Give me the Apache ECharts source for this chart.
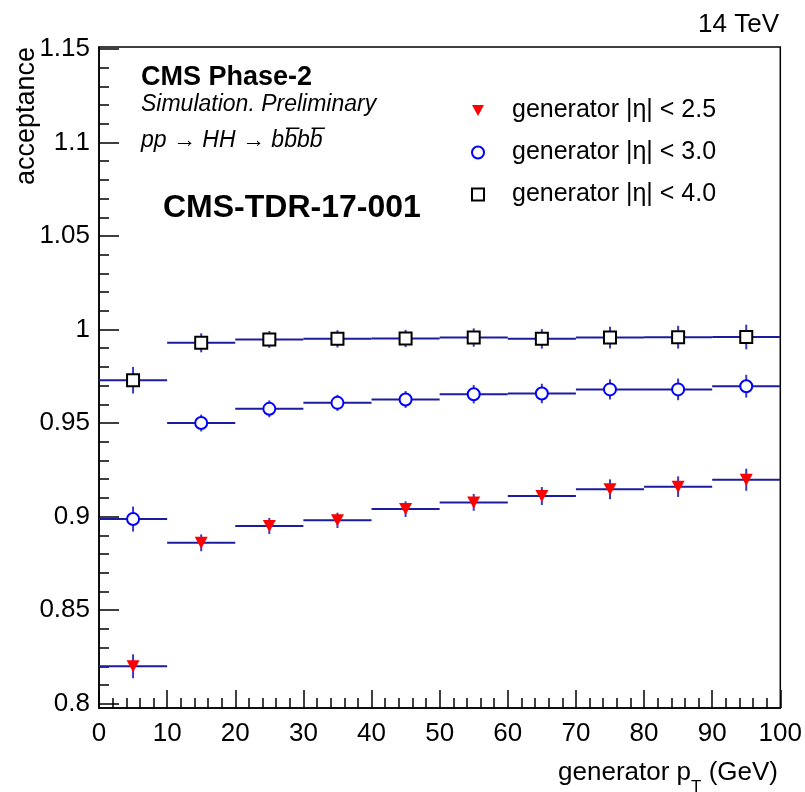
<!DOCTYPE html>
<html><head><meta charset="utf-8">
<script src="https://cdn.jsdelivr.net/npm/echarts@6/dist/echarts.min.js"></script>
<style>html,body{margin:0;padding:0;background:#fff}#c{width:805px;height:792px}</style>
</head><body><div id="c"></div>
<script>
// ---- data ----
const binLow = [0, 10, 20, 30, 40, 50, 60, 70, 80, 90];
const binHigh = [10, 20, 30, 40, 50, 60, 70, 80, 90, 100];
const binCenter = [5, 15, 25, 35, 45, 55, 65, 75, 85, 95];
const acc25 = [0.820, 0.886, 0.895, 0.898, 0.904, 0.9076, 0.911, 0.9146, 0.916, 0.9197];
const err25 = [0.0064, 0.0045, 0.0043, 0.0041, 0.0042, 0.0045, 0.0048, 0.0053, 0.0055, 0.0059];
const acc30 = [0.8987, 0.950, 0.9576, 0.9608, 0.9626, 0.9654, 0.9658, 0.968, 0.968, 0.9697];
const err30 = [0.0067, 0.0045, 0.0045, 0.0043, 0.0045, 0.0049, 0.0052, 0.0054, 0.0058, 0.0061];
const acc40 = [0.9729, 0.9929, 0.9947, 0.995, 0.9952, 0.9957, 0.995, 0.9957, 0.9959, 0.996];
const err40 = [0.0071, 0.0051, 0.0045, 0.0046, 0.0046, 0.0049, 0.0052, 0.0058, 0.0061, 0.0066];
const seriesNames = ['generator |η| < 2.5', 'generator |η| < 3.0', 'generator |η| < 4.0'];
const yMajorTicks = [0.8, 0.85, 0.9, 0.95, 1, 1.05, 1.1, 1.15];
const yMinorTicks = [0.81, 0.82, 0.83, 0.84, 0.86, 0.87, 0.88, 0.89, 0.91, 0.92, 0.93, 0.94,
  0.96, 0.97, 0.98, 0.99, 1.01, 1.02, 1.03, 1.04, 1.06, 1.07, 1.08, 1.09, 1.11, 1.12, 1.13, 1.14];

const FONT = "'Liberation Sans', Arial, Helvetica, sans-serif";
const LINE_COLOR = '#1c1ca0';

function binData(acc, err) {
  return binCenter.map((c, i) => [binLow[i], binHigh[i], c, acc[i], err[i]]);
}
function pointData(acc) {
  return binCenter.map((c, i) => [c, acc[i]]);
}
function renderBin(params, api) {
  const lo = api.value(0), hi = api.value(1), c = api.value(2), v = api.value(3), e = api.value(4);
  const p1 = api.coord([lo, v]), p2 = api.coord([hi, v]);
  const p3 = api.coord([c, v - e]), p4 = api.coord([c, v + e]);
  return {
    type: 'group',
    children: [
      { type: 'line', shape: { x1: p1[0], y1: p1[1], x2: p2[0], y2: p2[1] }, style: { stroke: LINE_COLOR, lineWidth: 2 } },
      { type: 'line', shape: { x1: p3[0], y1: p3[1], x2: p4[0], y2: p4[1] }, style: { stroke: '#3a3ac0', lineWidth: 2 } }
    ]
  };
}

const chart = echarts.init(document.getElementById('c'), null, { renderer: 'canvas' });
const yRange = { min: 0.7977, max: 1.151 };

const option = {
  animation: false,
  backgroundColor: '#fff',
  grid: { left: 99, right: 24, top: 47, bottom: 84, show: true, borderColor: '#000', borderWidth: 1.5, backgroundColor: 'transparent' },
  xAxis: {
    type: 'value', min: 0, max: 100, interval: 10,
    axisLine: { lineStyle: { color: '#000', width: 1.5 } },
    axisTick: { inside: true, length: 18, lineStyle: { color: '#000', width: 1.5 } },
    minorTick: { show: true, splitNumber: 5, length: 10, lineStyle: { color: '#000', width: 1.5 } },
    axisLabel: { color: '#000', fontSize: 26, fontFamily: FONT, margin: 13 },
    splitLine: { show: false }
  },
  yAxis: [{
    type: 'value', min: yRange.min, max: yRange.max,
    axisLine: { show: true, lineStyle: { color: '#000', width: 1.5 } },
    axisTick: { inside: true, length: 20, customValues: yMajorTicks, lineStyle: { color: '#000', width: 1.5 } },
    axisLabel: { color: '#000', fontSize: 26, fontFamily: FONT, margin: 9, customValues: yMajorTicks },
    splitLine: { show: false }
  }, {
    type: 'value', min: yRange.min, max: yRange.max, position: 'left',
    axisLine: { show: false },
    axisTick: { inside: true, length: 10, customValues: yMinorTicks, lineStyle: { color: '#000', width: 1.5 } },
    axisLabel: { show: false },
    splitLine: { show: false }
  }],
  legend: {
    orient: 'vertical', left: 466, top: 93, itemWidth: 12, itemHeight: 12, itemGap: 17,
    data: seriesNames,
    textStyle: { color: '#000', fontSize: 25, fontFamily: FONT, padding: [0, 0, 0, 23] }
  },
  series: [
    { type: 'custom', name: 'bins25', renderItem: renderBin, data: binData(acc25, err25), encode: { x: [0, 1, 2], y: [3] }, z: 2 },
    { type: 'custom', name: 'bins30', renderItem: renderBin, data: binData(acc30, err30), encode: { x: [0, 1, 2], y: [3] }, z: 2 },
    { type: 'custom', name: 'bins40', renderItem: renderBin, data: binData(acc40, err40), encode: { x: [0, 1, 2], y: [3] }, z: 2 },
    { type: 'scatter', name: seriesNames[0], data: pointData(acc25), symbol: 'path://M0,0 L10,0 L5,9 Z', symbolSize: [13, 12],
      itemStyle: { color: '#ff0000', opacity: 1 }, z: 5 },
    { type: 'scatter', name: seriesNames[1], data: pointData(acc30), symbol: 'circle', symbolSize: 12,
      itemStyle: { color: '#ffffff', borderColor: '#0000ff', borderWidth: 2, opacity: 1 }, z: 5 },
    { type: 'scatter', name: seriesNames[2], data: pointData(acc40), symbol: 'rect', symbolSize: 12,
      itemStyle: { color: '#ffffff', borderColor: '#000000', borderWidth: 2, opacity: 1 }, z: 5 }
  ],
  graphic: [
    { type: 'text', x: 779, y: 25, style: { text: '14 TeV', font: `26px ${FONT}`, fill: '#000', align: 'right', verticalAlign: 'middle' } },
    { type: 'text', x: 27, y: 47, rotation: Math.PI / 2, style: { text: 'acceptance', font: `27px ${FONT}`, fill: '#000', align: 'right', verticalAlign: 'middle' } },
    { type: 'text', x: 778, y: 796, style: {
        text: '{a|generator p}{s|T}{a| (GeV)}', fill: '#000', align: 'right', verticalAlign: 'bottom',
        rich: { a: { fontSize: 26, fontFamily: FONT, lineHeight: 36, verticalAlign: 'top' }, s: { fontSize: 17, fontFamily: FONT, lineHeight: 16, verticalAlign: 'bottom' } }
      } },
    { type: 'text', x: 141, y: 78, style: { text: 'CMS Phase-2', font: `bold 27px ${FONT}`, fill: '#000', align: 'left', verticalAlign: 'middle' } },
    { type: 'text', x: 141, y: 105, style: { text: 'Simulation. Preliminary', font: `italic 23px ${FONT}`, fill: '#000', align: 'left', verticalAlign: 'middle' } },
    { type: 'text', x: 141, y: 141, style: { text: 'pp \u2192 HH \u2192 bb\u0305bb\u0305', font: `italic 23px ${FONT}`, fill: '#000', align: 'left', verticalAlign: 'middle' } },
    { type: 'text', x: 163, y: 208, style: { text: 'CMS-TDR-17-001', font: `bold 32px ${FONT}`, fill: '#000', align: 'left', verticalAlign: 'middle' } }
  ]
};
chart.setOption(option);
</script></body></html>
